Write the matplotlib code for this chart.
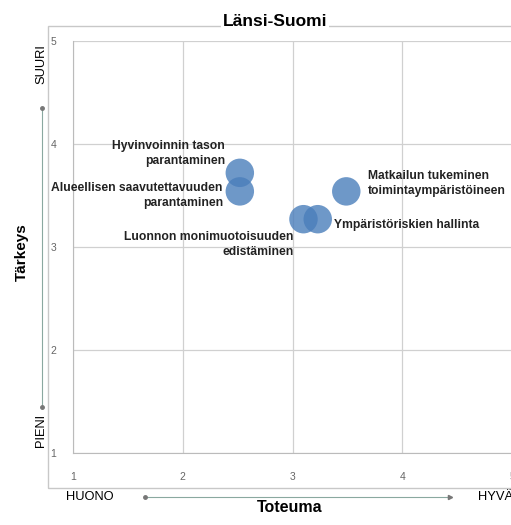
import matplotlib
matplotlib.use("Agg")
import matplotlib.pyplot as plt
from matplotlib.patches import Rectangle
from matplotlib.lines import Line2D

plt.rcParams['font.family'] = ['Liberation Sans', 'DejaVu Sans']

# Data
labels = ["Hyvinvoinnin tason\nparantaminen",
          "Alueellisen saavutettavuuden\nparantaminen",
          "Matkailun tukeminen\ntoimintaympäristöineen",
          "Luonnon monimuotoisuuden\nedistäminen",
          "Ympäristöriskien hallinta"]
toteuma = [2.52, 2.52, 3.49, 3.10, 3.23]
tarkeys = [3.72, 3.54, 3.54, 3.27, 3.27]
label_offsets = [(-15, 19), (-17, -4), (22, 8), (-10, -25), (16, -6)]
label_ha = ["right", "right", "left", "right", "left"]
xticks = [1, 2, 3, 4, 5]
yticks = [1, 2, 3, 4, 5]

W, H = 511, 525
fig = plt.figure(figsize=(W / 100, H / 100), dpi=100)

def fx(px):
    return px / W

def fy(py):
    return 1 - py / H

# outer frame
fig.patches.append(Rectangle((fx(48), fy(488)), fx(600), fy(26) - fy(488),
                             transform=fig.transFigure, fill=False,
                             edgecolor='#c8c8c8', linewidth=1.0, zorder=0))

ax = fig.add_axes([fx(73), fy(453), fx(512) - fx(73), fy(41) - fy(453)])
ax.set_xlim(1, 5)
ax.set_ylim(1, 5)
ax.set_xticks(xticks)
ax.set_yticks(yticks)
ax.grid(True, color='#d0d0d0', linewidth=0.9)
ax.set_axisbelow(True)
for s in ['top', 'right']:
    ax.spines[s].set_visible(False)
for s in ['left', 'bottom']:
    ax.spines[s].set_color('#bbbbbb')
ax.tick_params(length=0, labelsize=7.5, labelcolor='#666666')
ax.tick_params(axis='x', pad=14)
ax.tick_params(axis='y', pad=12)

ax.scatter(toteuma, tarkeys, s=420, color='#4a7ebb', alpha=0.8,
           edgecolors='none', zorder=3)
for lab, x, y, off, ha in zip(labels, toteuma, tarkeys, label_offsets, label_ha):
    ax.annotate(lab, (x, y), xytext=off, textcoords='offset pixels',
                ha=ha, va='center', fontsize=8.7, color='#222222',
                fontweight='bold', linespacing=1.3, zorder=4)

# title
fig.text(fx(275), fy(26), "Länsi-Suomi", ha='center', va='baseline',
         fontsize=12.5, fontweight='bold',
         bbox=dict(facecolor='white', edgecolor='none', pad=1))

# axis titles
fig.text(fx(22), fy(252), "Tärkeys", rotation=90, ha='center', va='center',
         fontsize=11, fontweight='bold')
fig.text(fx(290), fy(508), "Toteuma", ha='center', va='center',
         fontsize=11.5, fontweight='bold')

fig.text(fx(41), fy(64), "SUURI", rotation=90, ha='center', va='center', fontsize=9.3)
fig.text(fx(41), fy(430), "PIENI", rotation=90, ha='center', va='center', fontsize=9.3)
fig.text(fx(90), fy(497), "HUONO", ha='center', va='center', fontsize=9.3)
fig.text(fx(478), fy(497), "HYVÄ", ha='left', va='center', fontsize=9.3)

arrow_col = '#8aa8a0'
fig.add_artist(Line2D([fx(42), fx(42)], [fy(108), fy(407)], transform=fig.transFigure,
                      color=arrow_col, linewidth=0.8))
fig.add_artist(Line2D([fx(42), fx(42)], [fy(108), fy(407)], transform=fig.transFigure,
                      color='#777777', linestyle='none', marker='o', markersize=2.5))
fig.add_artist(Line2D([fx(145), fx(450)], [fy(497), fy(497)], transform=fig.transFigure,
                      color=arrow_col, linewidth=0.8))
fig.add_artist(Line2D([fx(145)], [fy(497)], transform=fig.transFigure,
                      color='#777777', linestyle='none', marker='o', markersize=2.5))
fig.add_artist(Line2D([fx(450)], [fy(497)], transform=fig.transFigure,
                      color='#777777', linestyle='none', marker='>', markersize=3))

fig.savefig("out.png", dpi=100)
